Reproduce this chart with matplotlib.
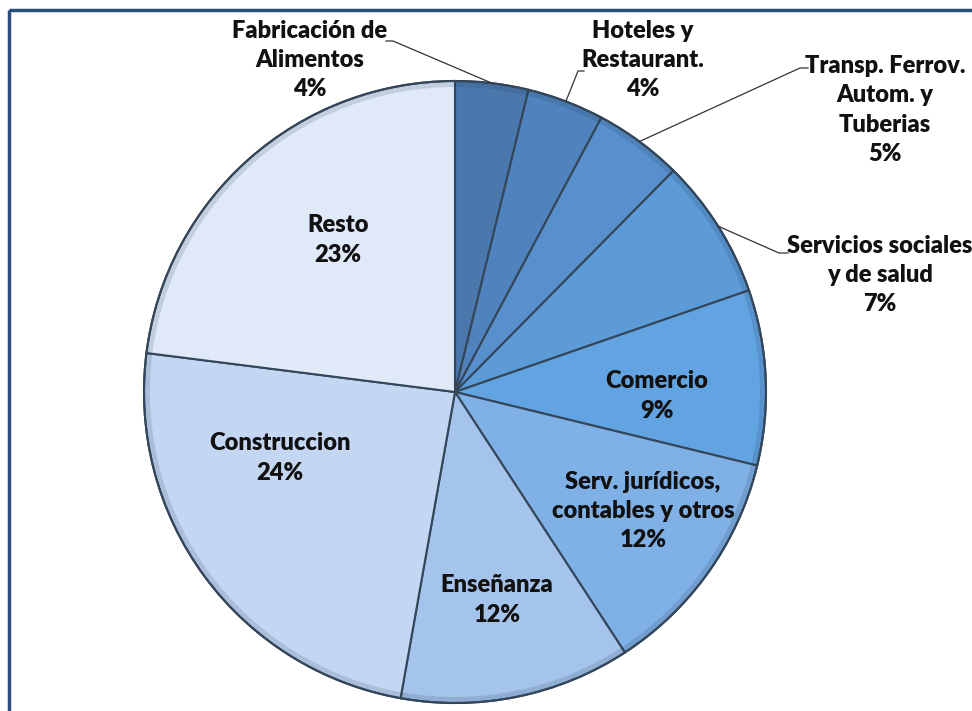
import matplotlib.pyplot as plt
from matplotlib.patches import Rectangle, Wedge
import numpy as np

sectors = ['Fabricación de\nAlimentos', 'Hoteles y\nRestaurant.', 'Transp. Ferrov.\nAutom. y\nTuberias',
           'Servicios sociales\ny de salud', 'Comercio', 'Serv. jurídicos,\ncontables y otros',
           'Enseñanza', 'Construccion', 'Resto']
shares = [3.8, 4.0, 4.6, 7.3, 9.1, 12.0, 12.0, 24.2, 23.0]
colors = ['#4a78ad', '#5083bd', '#5790cc', '#5c9ad8', '#62a3e2', '#80b1e6',
          '#a5c4ec', '#c4d7f2', '#dfe9f8']

fig = plt.figure(figsize=(9.72, 7.11), dpi=100)
ax = fig.add_axes([0, 0, 1, 1])

# pixel coordinates, y pointing down
cx, cy, r = 455, 392, 311
wedges, _ = ax.pie(shares, colors=colors, center=(cx, cy), radius=r,
                   startangle=-90, counterclock=True,
                   wedgeprops=dict(edgecolor='#34465a', linewidth=1.5))

# rim shading to mimic the bevel
for w in wedges:
    ax.add_patch(Wedge((cx, cy), r, w.theta1, w.theta2, width=6,
                       facecolor='#1d3550', alpha=0.15, edgecolor='none'))
ax.add_patch(plt.Circle((cx, cy), r, fill=False, edgecolor='#34465a', linewidth=1.5))

ax.set_xlim(0, 972)
ax.set_ylim(711, 0)
ax.set_aspect('equal')
ax.axis('off')

font = dict(family=['Lato', 'DejaVu Sans'], fontweight='heavy', fontsize=17,
            color='#111111', ha='center', va='center', linespacing=1.4)

def label(i):
    return f"{sectors[i]}\n{shares[i]:.0f}%"

# labels inside the slices
inside = {4: (657, 396), 5: (643, 511), 6: (497, 600), 7: (280, 458), 8: (338, 240)}
for i, (x, y) in inside.items():
    ax.text(x, y, label(i), **font)

# labels outside with leader lines: text position, elbow, stub end
outside = {0: ((310, 60), (393, 41), (386, 41)),
           1: ((643, 60), (578, 71), (584, 71)),
           2: ((885, 110), (800, 68), (808, 68)),
           3: ((880, 275), (779, 253), (788, 253))}
for i, (txt, elbow, stub) in outside.items():
    w = wedges[i]
    ang = np.deg2rad((w.theta1 + w.theta2) / 2)
    ax0 = cx + r * np.cos(ang)
    ay0 = cy + r * np.sin(ang)
    ax.plot([ax0, elbow[0], stub[0]], [ay0, elbow[1], stub[1]], color='#333333', lw=0.9)
    ax.text(txt[0], txt[1], label(i), **font)

# frame (only top and left edges are visible)
ax.add_patch(Rectangle((8.5, 9.5), 1100, 900, fill=False, edgecolor='#2b4f7a', linewidth=2.5))

fig.savefig('out.png', dpi=100, facecolor='white')
